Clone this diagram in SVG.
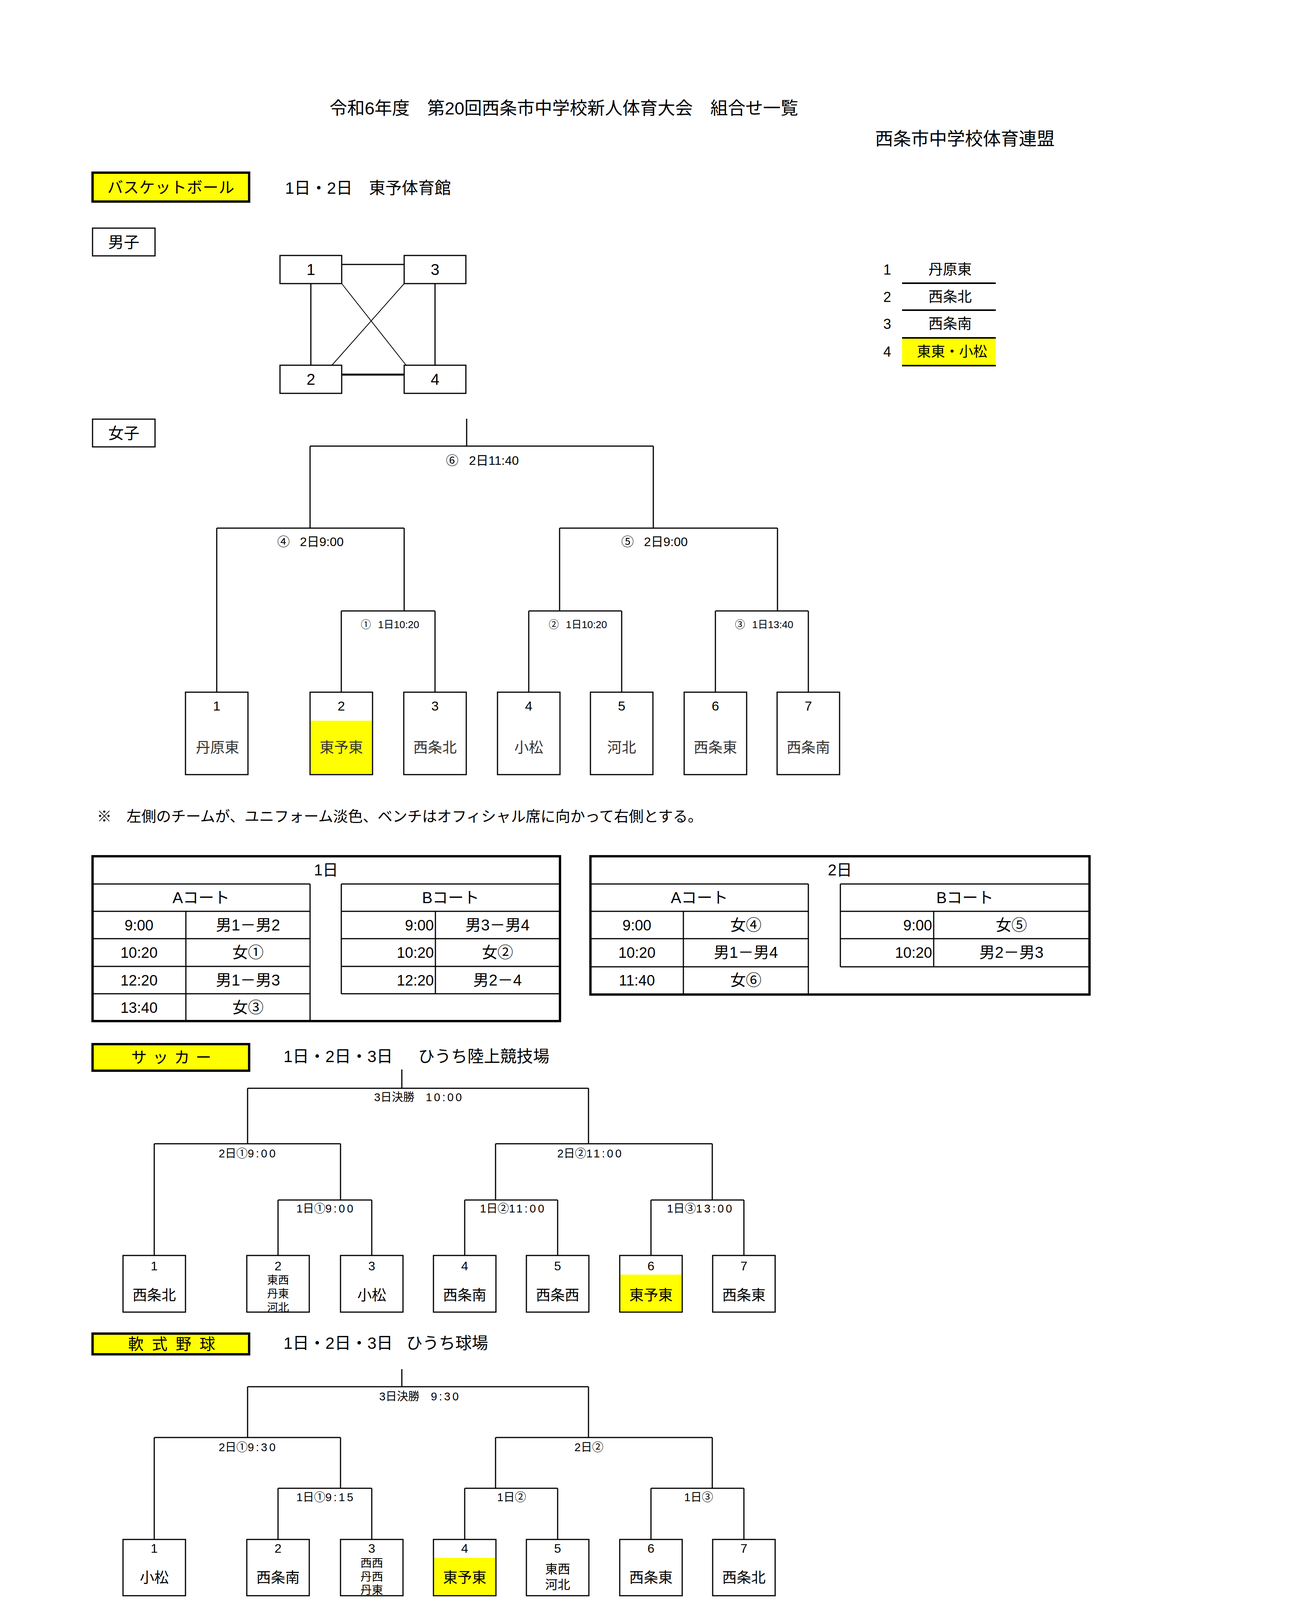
<svg xmlns="http://www.w3.org/2000/svg" width="3306" height="4678" viewBox="0 0 3306 4678">
<style>
text{font-family:"Liberation Sans","Noto Sans CJK JP",sans-serif;fill:#000}
.c{text-anchor:middle}
.r{text-anchor:end}
.box{fill:#fff;stroke:#000;stroke-width:3}
.ybox{fill:#ff0;stroke:#000;stroke-width:6}
.yel{fill:#ff0}
.outer{fill:none;stroke:#000;stroke-width:6}
#connectors-boys line,#connectors-girls line,#connectors-soccer line,#connectors-baseball line,.grid line{stroke:#000;stroke-width:3;fill:none}
.thin{stroke-width:2 !important}
.num{font-size:34px}
.num2{font-size:32px}
.nm{font-size:37px}
.mn{font-size:37px;fill:#333}
.sm{font-size:28px}
.lb{font-size:29px}
.dg{letter-spacing:5px}
.tt{font-size:40px}
.ti{font-size:38px}
</style>

<g id="header">
<text x="1444" y="293" class="c" font-size="45">令和6年度　第20回西条市中学校新人体育大会　組合せ一覧</text>
<text x="2471" y="371" class="c" font-size="46">西条市中学校体育連盟</text>
</g>

<!-- Basketball -->
<g id="basketball-title">
<rect class="ybox" x="237" y="442" width="401" height="74"/>
<text x="275" y="494" font-size="40" textLength="325" lengthAdjust="spacing">バスケットボール</text>
</g>
<text id="basketball-venue" x="730" y="496" font-size="42">1日・2日　東予体育館</text>

<g id="boys-label">
<rect class="box" x="237" y="584" width="160" height="71"/>
<text x="317" y="634" class="c" font-size="40">男子</text>
</g>

<g id="connectors-boys">
<line x1="875" y1="677" x2="1035" y2="677"/>
<line x1="875" y1="959" x2="1035" y2="959" style="stroke-width:5"/>
<line x1="796" y1="726" x2="796" y2="935"/>
<line x1="1114" y1="726" x2="1114" y2="935"/>
<line class="thin" x1="875" y1="726" x2="1040" y2="935"/>
<line class="thin" x1="1035" y1="726" x2="850" y2="935"/>
</g>
<g id="boys-1"><rect class="box" x="717" y="654" width="158" height="72"/><text x="796" y="704" class="c" font-size="40">1</text></g>
<g id="boys-3"><rect class="box" x="1035" y="654" width="158" height="72"/><text x="1114" y="704" class="c" font-size="40">3</text></g>
<g id="boys-2"><rect class="box" x="717" y="935" width="158" height="72"/><text x="796" y="985" class="c" font-size="40">2</text></g>
<g id="boys-4"><rect class="box" x="1035" y="935" width="158" height="72"/><text x="1114" y="985" class="c" font-size="40">4</text></g>

<g id="boys-legend">
<rect class="yel" x="2310" y="865" width="240" height="71"/>
<g style="stroke:#000;stroke-width:4">
<line x1="2310" y1="725" x2="2550" y2="725"/>
<line x1="2310" y1="794" x2="2550" y2="794"/>
<line x1="2310" y1="865" x2="2550" y2="865"/>
<line x1="2310" y1="936" x2="2550" y2="936"/>
</g>
<text x="2272" y="703" class="c" font-size="36">1</text>
<text x="2272" y="773" class="c" font-size="36">2</text>
<text x="2272" y="842" class="c" font-size="36">3</text>
<text x="2272" y="913" class="c" font-size="36">4</text>
<text x="2433" y="703" class="c" font-size="37">丹原東</text>
<text x="2433" y="773" class="c" font-size="37">西条北</text>
<text x="2433" y="842" class="c" font-size="37">西条南</text>
<text x="2438" y="913" class="c" font-size="36">東東・小松</text>
</g>

<!-- Girls -->
<g id="girls-label">
<rect class="box" x="237" y="1073" width="160" height="71"/>
<text x="317" y="1123" class="c" font-size="40">女子</text>
</g>

<g id="connectors-girls">
<line x1="1195" y1="1072" x2="1195" y2="1142"/>
<line x1="794" y1="1142" x2="1673" y2="1142"/>
<line x1="794" y1="1142" x2="794" y2="1352"/>
<line x1="1673" y1="1142" x2="1673" y2="1352"/>
<line x1="555" y1="1352" x2="1035" y2="1352"/>
<line x1="1433" y1="1352" x2="1991" y2="1352"/>
<line x1="555" y1="1352" x2="555" y2="1772"/>
<line x1="1035" y1="1352" x2="1035" y2="1564"/>
<line x1="1433" y1="1352" x2="1433" y2="1564"/>
<line x1="1991" y1="1352" x2="1991" y2="1564"/>
<line x1="874" y1="1564" x2="1114" y2="1564"/>
<line x1="1354" y1="1564" x2="1592" y2="1564"/>
<line x1="1832" y1="1564" x2="2070" y2="1564"/>
<line x1="874" y1="1564" x2="874" y2="1772"/>
<line x1="1114" y1="1564" x2="1114" y2="1772"/>
<line x1="1354" y1="1564" x2="1354" y2="1772"/>
<line x1="1592" y1="1564" x2="1592" y2="1772"/>
<line x1="1832" y1="1564" x2="1832" y2="1772"/>
<line x1="2070" y1="1564" x2="2070" y2="1772"/>
</g>
<g id="girls-labels">
<text x="1142" y="1190" font-size="32">⑥ <tspan x="1201">2日11:40</tspan></text>
<text x="710" y="1398" font-size="32">④ <tspan x="768">2日9:00</tspan></text>
<text x="1591" y="1398" font-size="32">⑤ <tspan x="1649">2日9:00</tspan></text>
<text x="924" y="1608" font-size="26">① <tspan x="968">1日10:20</tspan></text>
<text x="1405" y="1608" font-size="26">② <tspan x="1449">1日10:20</tspan></text>
<text x="1882" y="1608" font-size="26">③ <tspan x="1926">1日13:40</tspan></text>
</g>
<g id="girls-1"><rect class="box" x="475" y="1772" width="160" height="211"/><text x="555" y="1819" class="c num">1</text><text x="557" y="1927" class="c mn">丹原東</text></g>
<g id="girls-2"><rect class="box" x="794" y="1772" width="160" height="211"/><rect class="yel" x="796" y="1845" width="156" height="136"/><text x="874" y="1819" class="c num">2</text><text x="874" y="1927" class="c mn">東予東</text></g>
<g id="girls-3"><rect class="box" x="1034" y="1772" width="160" height="211"/><text x="1114" y="1819" class="c num">3</text><text x="1114" y="1927" class="c mn">西条北</text></g>
<g id="girls-4"><rect class="box" x="1274" y="1772" width="160" height="211"/><text x="1354" y="1819" class="c num">4</text><text x="1354" y="1927" class="c mn">小松</text></g>
<g id="girls-5"><rect class="box" x="1512" y="1772" width="160" height="211"/><text x="1592" y="1819" class="c num">5</text><text x="1592" y="1927" class="c mn">河北</text></g>
<g id="girls-6"><rect class="box" x="1752" y="1772" width="160" height="211"/><text x="1832" y="1819" class="c num">6</text><text x="1832" y="1927" class="c mn">西条東</text></g>
<g id="girls-7"><rect class="box" x="1990" y="1772" width="160" height="211"/><text x="2070" y="1819" class="c num">7</text><text x="2070" y="1927" class="c mn">西条南</text></g>

<text id="note" x="248" y="2103" font-size="38">※　左側のチームが、ユニフォーム淡色、ベンチはオフィシャル席に向かって右側とする。</text>

<!-- Day 1 table -->
<g id="table-day1">
<rect class="outer" x="237" y="2192" width="1197" height="422"/>
<g class="grid">
<line x1="237" y1="2263" x2="794" y2="2263"/>
<line x1="874" y1="2263" x2="1434" y2="2263"/>
<line x1="794" y1="2263" x2="794" y2="2614"/>
<line x1="874" y1="2263" x2="874" y2="2544"/>
<line x1="874" y1="2544" x2="1434" y2="2544"/>
<line x1="237" y1="2333" x2="794" y2="2333"/>
<line x1="237" y1="2403" x2="794" y2="2403"/>
<line x1="237" y1="2474" x2="794" y2="2474"/>
<line x1="237" y1="2544" x2="794" y2="2544"/>
<line x1="874" y1="2333" x2="1434" y2="2333"/>
<line x1="874" y1="2403" x2="1434" y2="2403"/>
<line x1="874" y1="2474" x2="1434" y2="2474"/>
<line x1="476" y1="2333" x2="476" y2="2614"/>
<line x1="1115" y1="2333" x2="1115" y2="2544"/>
</g>
<text x="835" y="2241" class="c tt">1日</text>
<text x="515" y="2312" class="c tt">Aコート</text>
<text x="1154" y="2312" class="c tt">Bコート</text>
<text x="356" y="2382" class="c ti">9:00</text>
<text x="356" y="2452" class="c ti">10:20</text>
<text x="356" y="2523" class="c ti">12:20</text>
<text x="356" y="2593" class="c ti">13:40</text>
<text x="635" y="2382" class="c tt">男1－男2</text>
<text x="635" y="2452" class="c tt">女①</text>
<text x="635" y="2523" class="c tt">男1－男3</text>
<text x="635" y="2593" class="c tt">女③</text>
<text x="1111" y="2382" class="r ti">9:00</text>
<text x="1111" y="2452" class="r ti">10:20</text>
<text x="1111" y="2523" class="r ti">12:20</text>
<text x="1274" y="2382" class="c tt">男3－男4</text>
<text x="1274" y="2452" class="c tt">女②</text>
<text x="1274" y="2523" class="c tt">男2－4</text>
</g>

<!-- Day 2 table -->
<g id="table-day2">
<rect class="outer" x="1512" y="2192" width="1278" height="354"/>
<g class="grid">
<line x1="1512" y1="2263" x2="2070" y2="2263"/>
<line x1="2152" y1="2263" x2="2790" y2="2263"/>
<line x1="2070" y1="2263" x2="2070" y2="2546"/>
<line x1="2152" y1="2263" x2="2152" y2="2475"/>
<line x1="2152" y1="2475" x2="2790" y2="2475"/>
<line x1="1512" y1="2333" x2="2070" y2="2333"/>
<line x1="1512" y1="2403" x2="2070" y2="2403"/>
<line x1="1512" y1="2475" x2="2070" y2="2475"/>
<line x1="2152" y1="2333" x2="2790" y2="2333"/>
<line x1="2152" y1="2403" x2="2790" y2="2403"/>
<line x1="1750" y1="2333" x2="1750" y2="2546"/>
<line x1="2391" y1="2333" x2="2391" y2="2475"/>
</g>
<text x="2151" y="2241" class="c tt">2日</text>
<text x="1791" y="2312" class="c tt">Aコート</text>
<text x="2471" y="2312" class="c tt">Bコート</text>
<text x="1631" y="2382" class="c ti">9:00</text>
<text x="1631" y="2452" class="c ti">10:20</text>
<text x="1631" y="2523" class="c ti">11:40</text>
<text x="1910" y="2382" class="c tt">女④</text>
<text x="1910" y="2452" class="c tt">男1－男4</text>
<text x="1910" y="2523" class="c tt">女⑥</text>
<text x="2387" y="2382" class="r ti">9:00</text>
<text x="2387" y="2452" class="r ti">10:20</text>
<text x="2590" y="2382" class="c tt">女⑤</text>
<text x="2590" y="2452" class="c tt">男2－男3</text>
</g>

<!-- Soccer -->
<g id="soccer-title">
<rect class="ybox" x="237" y="2673" width="401" height="68"/>
<text x="336" y="2721" font-size="40" textLength="205" lengthAdjust="spacing">サ ッ カ ー</text>
</g>
<text id="soccer-venue" x="726" y="2719" font-size="42">1日・2日・3日　<tspan x="1071">ひうち陸上競技場</tspan></text>

<g id="connectors-soccer">
<line x1="1029" y1="2738" x2="1029" y2="2786"/>
<line x1="634" y1="2786" x2="1507" y2="2786"/>
<line x1="634" y1="2786" x2="634" y2="2928"/>
<line x1="1507" y1="2786" x2="1507" y2="2928"/>
<line x1="395" y1="2928" x2="872" y2="2928"/>
<line x1="1269" y1="2928" x2="1824" y2="2928"/>
<line x1="395" y1="2928" x2="395" y2="3214"/>
<line x1="872" y1="2928" x2="872" y2="3072"/>
<line x1="1269" y1="2928" x2="1269" y2="3072"/>
<line x1="1824" y1="2928" x2="1824" y2="3072"/>
<line x1="712" y1="3072" x2="952" y2="3072"/>
<line x1="1190" y1="3072" x2="1428" y2="3072"/>
<line x1="1667" y1="3072" x2="1905" y2="3072"/>
<line x1="712" y1="3072" x2="712" y2="3214"/>
<line x1="952" y1="3072" x2="952" y2="3214"/>
<line x1="1190" y1="3072" x2="1190" y2="3214"/>
<line x1="1428" y1="3072" x2="1428" y2="3214"/>
<line x1="1667" y1="3072" x2="1667" y2="3214"/>
<line x1="1905" y1="3072" x2="1905" y2="3214"/>
</g>
<g id="soccer-labels">
<text x="958" y="2819" class="lb">3日決勝　<tspan class="dg">10:00</tspan></text>
<text x="560" y="2963" class="lb">2日①<tspan class="dg">9:00</tspan></text>
<text x="1427" y="2963" class="lb">2日②<tspan class="dg">11:00</tspan></text>
<text x="759" y="3104" class="lb">1日①<tspan class="dg">9:00</tspan></text>
<text x="1229" y="3104" class="lb">1日②<tspan class="dg">11:00</tspan></text>
<text x="1708" y="3104" class="lb">1日③<tspan class="dg">13:00</tspan></text>
</g>
<g id="soccer-1"><rect class="box" x="315" y="3214" width="160" height="145"/><text x="395" y="3252" class="c num2">1</text><text x="395" y="3329" class="c nm">西条北</text></g>
<g id="soccer-2"><rect class="box" x="632" y="3214" width="160" height="145"/><text x="712" y="3252" class="c num2">2</text><text x="712" y="3287" class="c sm">東西</text><text x="712" y="3322" class="c sm">丹東</text><text x="712" y="3357" class="c sm">河北</text></g>
<g id="soccer-3"><rect class="box" x="872" y="3214" width="160" height="145"/><text x="952" y="3252" class="c num2">3</text><text x="952" y="3329" class="c nm">小松</text></g>
<g id="soccer-4"><rect class="box" x="1110" y="3214" width="160" height="145"/><text x="1190" y="3252" class="c num2">4</text><text x="1190" y="3329" class="c nm">西条南</text></g>
<g id="soccer-5"><rect class="box" x="1348" y="3214" width="160" height="145"/><text x="1428" y="3252" class="c num2">5</text><text x="1428" y="3329" class="c nm">西条西</text></g>
<g id="soccer-6"><rect class="box" x="1587" y="3214" width="160" height="145"/><rect class="yel" x="1589" y="3263" width="156" height="94"/><text x="1667" y="3252" class="c num2">6</text><text x="1667" y="3329" class="c nm">東予東</text></g>
<g id="soccer-7"><rect class="box" x="1825" y="3214" width="160" height="145"/><text x="1905" y="3252" class="c num2">7</text><text x="1905" y="3329" class="c nm">西条東</text></g>

<!-- Baseball (slightly compressed so that it stays inside the photographed area) -->
<g id="baseball-title">
<rect class="ybox" x="237" y="3414" width="401" height="53"/>
<text x="328" y="3455" font-size="40" textLength="223" lengthAdjust="spacing">軟 式 野 球</text>
</g>
<text id="baseball-venue" x="726" y="3453" font-size="42">1日・2日・3日 <tspan x="1040">ひうち球場</tspan></text>

<g id="connectors-baseball">
<line x1="1029" y1="3505" x2="1029" y2="3550"/>
<line x1="634" y1="3550" x2="1507" y2="3550"/>
<line x1="634" y1="3550" x2="634" y2="3680"/>
<line x1="1507" y1="3550" x2="1507" y2="3680"/>
<line x1="395" y1="3680" x2="872" y2="3680"/>
<line x1="1269" y1="3680" x2="1824" y2="3680"/>
<line x1="395" y1="3680" x2="395" y2="3941"/>
<line x1="872" y1="3680" x2="872" y2="3810"/>
<line x1="1269" y1="3680" x2="1269" y2="3810"/>
<line x1="1824" y1="3680" x2="1824" y2="3810"/>
<line x1="712" y1="3810" x2="952" y2="3810"/>
<line x1="1190" y1="3810" x2="1428" y2="3810"/>
<line x1="1667" y1="3810" x2="1905" y2="3810"/>
<line x1="712" y1="3810" x2="712" y2="3941"/>
<line x1="952" y1="3810" x2="952" y2="3941"/>
<line x1="1190" y1="3810" x2="1190" y2="3941"/>
<line x1="1428" y1="3810" x2="1428" y2="3941"/>
<line x1="1667" y1="3810" x2="1667" y2="3941"/>
<line x1="1905" y1="3810" x2="1905" y2="3941"/>
</g>
<g id="baseball-labels">
<text x="971" y="3585" class="lb">3日決勝　<tspan class="dg">9:30</tspan></text>
<text x="560" y="3715" class="lb">2日①<tspan class="dg">9:30</tspan></text>
<text x="1471" y="3715" class="lb">2日②</text>
<text x="759" y="3843" class="lb">1日①<tspan class="dg">9:15</tspan></text>
<text x="1273" y="3843" class="lb">1日②</text>
<text x="1752" y="3843" class="lb">1日③</text>
</g>
<g id="baseball-1"><rect class="box" x="315" y="3941" width="160" height="144"/><text x="395" y="3975" class="c num2">1</text><text x="395" y="4052" class="c nm">小松</text></g>
<g id="baseball-2"><rect class="box" x="632" y="3941" width="160" height="144"/><text x="712" y="3975" class="c num2">2</text><text x="712" y="4052" class="c nm">西条南</text></g>
<g id="baseball-3"><rect class="box" x="872" y="3941" width="160" height="144"/><text x="952" y="3975" class="c num2">3</text><text x="952" y="4012" class="c" font-size="29">西西</text><text x="952" y="4047" class="c" font-size="29">丹西</text><text x="952" y="4081" class="c" font-size="29">丹東</text></g>
<g id="baseball-4"><rect class="box" x="1110" y="3941" width="160" height="144"/><rect class="yel" x="1112" y="3988" width="156" height="95"/><text x="1190" y="3975" class="c num2">4</text><text x="1190" y="4052" class="c nm">東予東</text></g>
<g id="baseball-5"><rect class="box" x="1348" y="3941" width="160" height="144"/><text x="1428" y="3975" class="c num2">5</text><text x="1428" y="4028" class="c" font-size="32">東西</text><text x="1428" y="4068" class="c" font-size="32">河北</text></g>
<g id="baseball-6"><rect class="box" x="1587" y="3941" width="160" height="144"/><text x="1667" y="3975" class="c num2">6</text><text x="1667" y="4052" class="c nm">西条東</text></g>
<g id="baseball-7"><rect class="box" x="1825" y="3941" width="160" height="144"/><text x="1905" y="3975" class="c num2">7</text><text x="1905" y="4052" class="c nm">西条北</text></g>
</svg>
